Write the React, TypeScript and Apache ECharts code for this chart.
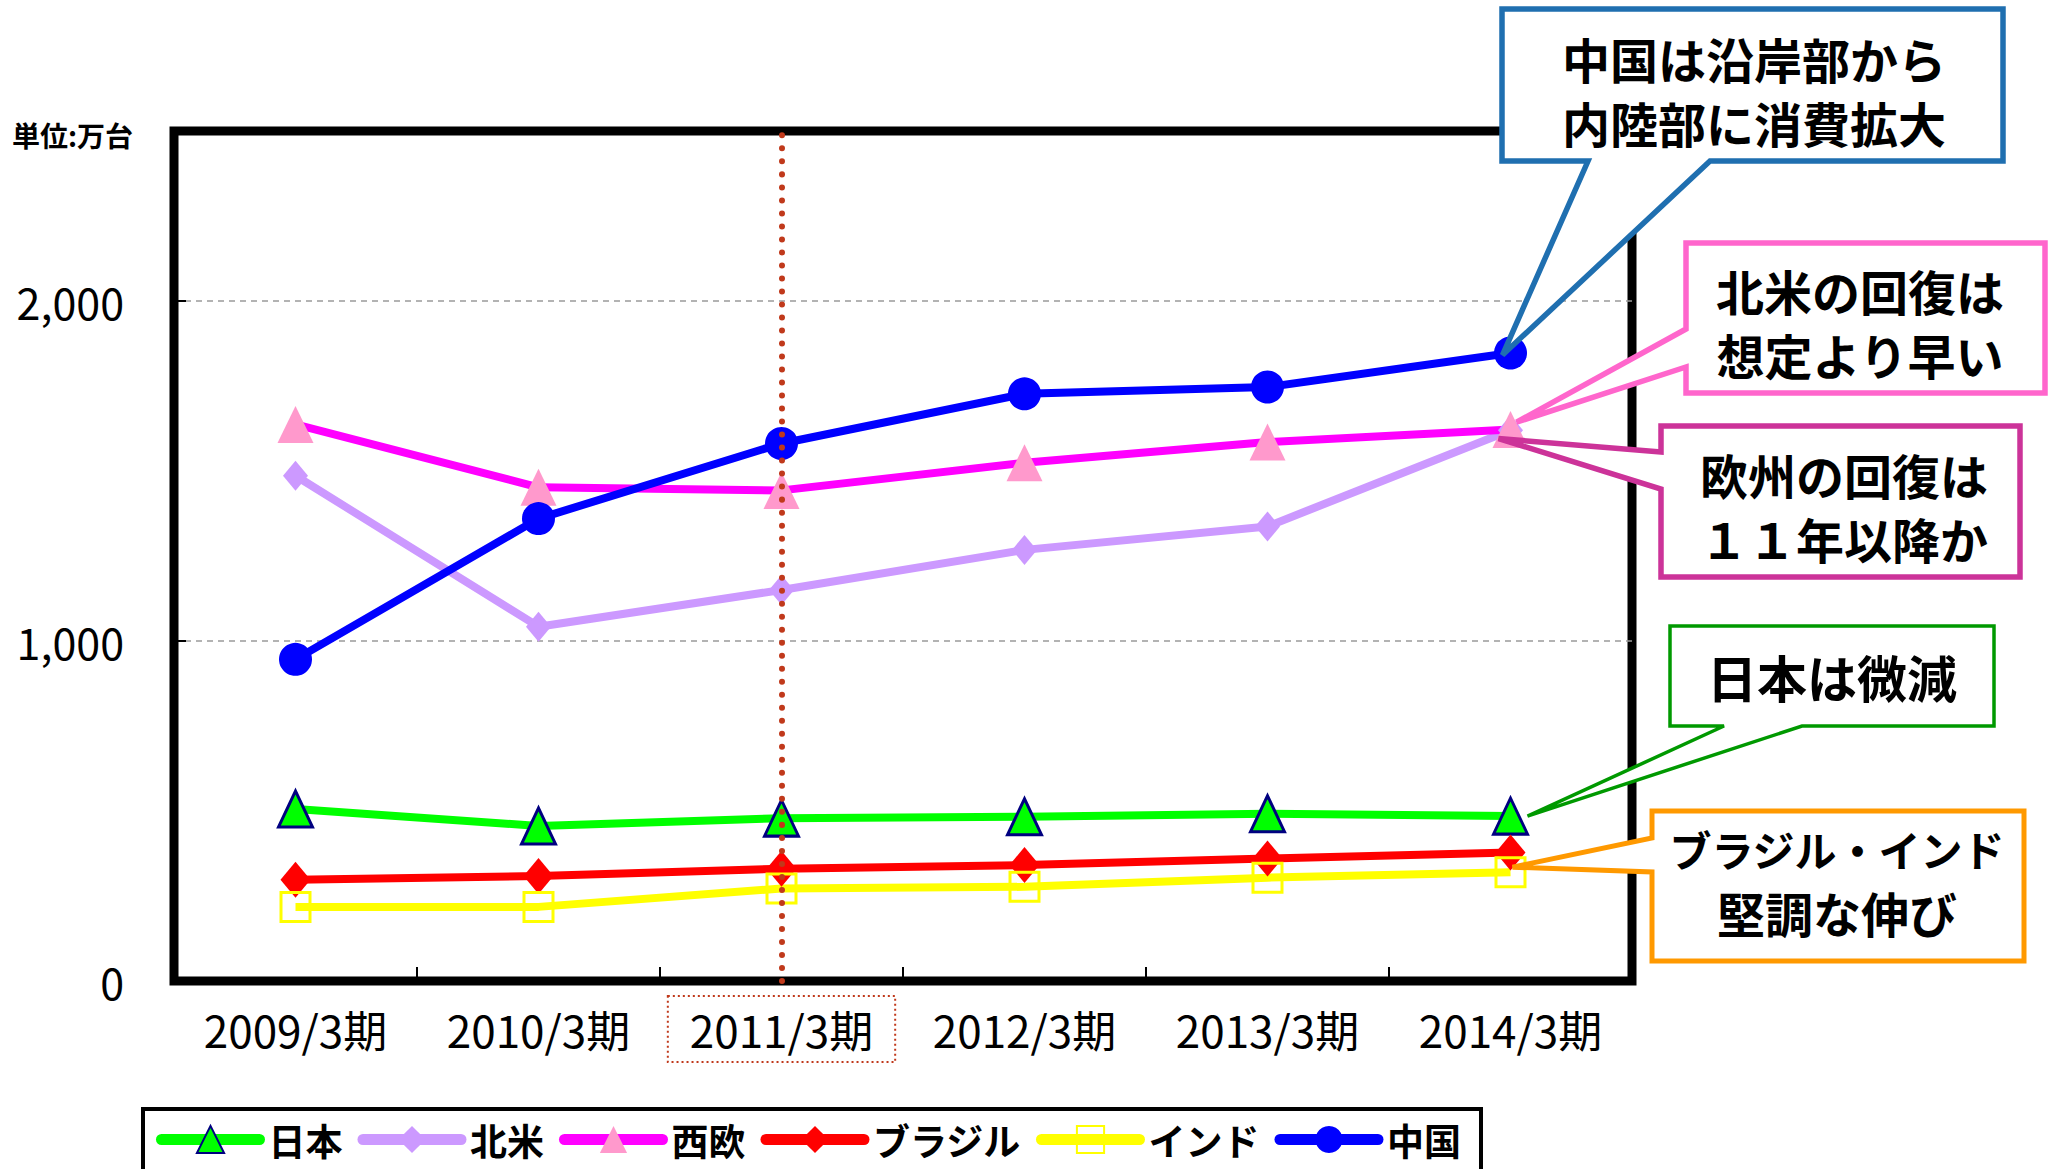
import React, { useEffect, useRef } from 'react';
import * as echarts from 'echarts';

// ---- data ----
const categories = ['2009/3期', '2010/3期', '2011/3期', '2012/3期', '2013/3期', '2014/3期'];
const japan = [506, 456, 479, 483, 492, 485];
const northAmerica = [1486, 1042, 1150, 1268, 1337, 1620];
const westEurope = [1637, 1452, 1443, 1524, 1585, 1622];
const brazil = [298, 309, 330, 341, 360, 378];
const india = [218, 218, 272, 277, 304, 320];
const china = [946, 1360, 1581, 1727, 1747, 1847];
const seriesNames = ['日本', '北米', '西欧', 'ブラジル', 'インド', '中国'];
const highlightCategory = '2011/3期';
const unitLabel = '単位:万台';
const yMax = 2500;
const yInterval = 1000;

const FONT = '"Noto Sans CJK JP", "Noto Sans", sans-serif';

export default function App() {
  const ref = useRef<HTMLDivElement>(null);

  useEffect(() => {
    if (!ref.current) return;
    const chart = echarts.init(ref.current, null, { renderer: 'svg' });

    const labelRich = {
      n: { fontSize: 44, fontFamily: FONT, color: '#000', padding: [11, 22], lineHeight: 44 },
      h: {
        fontSize: 44, fontFamily: FONT, color: '#000', padding: [11, 22], lineHeight: 44,
        borderColor: '#C0391B', borderWidth: 2, borderType: [2, 3],
      },
    };

    const option: any = {
      animation: false,
      backgroundColor: '#fff',
      grid: {
        left: 174, top: 131, right: 424, bottom: 188,
        show: true, borderColor: '#000', borderWidth: 9, backgroundColor: 'transparent',
        outerBoundsMode: 'none',
      },
      legend: {
        left: 143, top: 1109,
        orient: 'horizontal',
        padding: [12, 20, 14, 13],
        itemGap: 15,
        itemWidth: 98,
        itemHeight: 34,
        borderColor: '#000',
        borderWidth: 4,
        backgroundColor: '#fff',
        data: seriesNames,
        textStyle: { fontSize: 37, fontWeight: 'bold', color: '#000', fontFamily: FONT, padding: [0, 0, 0, 4] },
        lineStyle: { width: 11, cap: 'round' },
      },
      xAxis: {
        type: 'category',
        data: categories,
        boundaryGap: true,
        axisLine: { show: false },
        axisTick: { show: true, inside: true, length: 14, lineStyle: { color: '#000', width: 2 } },
        axisLabel: {
          margin: 26,
          formatter: (v: string) => (v === highlightCategory ? `{h|${v}}` : `{n|${v}}`),
          rich: labelRich,
        },
        splitLine: { show: false },
      },
      yAxis: {
        type: 'value',
        min: 0,
        max: yMax,
        interval: yInterval,
        axisLine: { show: false },
        axisTick: { show: true, inside: true, length: 12, lineStyle: { color: '#000', width: 2 } },
        axisLabel: {
          fontSize: 43, color: '#000', fontFamily: FONT, margin: 50, showMaxLabel: false,
          formatter: (v: number) => v.toLocaleString('en-US'),
        },
        splitLine: { show: true, showMinLine: false, showMaxLine: false, lineStyle: { color: '#9a9a9a', width: 1.5, type: [6, 5] } },
      },
      series: [
        {
          name: '日本', type: 'line', data: japan, symbol: 'triangle', symbolSize: [34, 36],
          lineStyle: { color: '#00FF00', width: 8 },
          itemStyle: { color: '#00FF00', borderColor: '#000080', borderWidth: 3 },
        },
        {
          name: '北米', type: 'line', data: northAmerica, symbol: 'diamond', symbolSize: [25, 30],
          lineStyle: { color: '#CC99FF', width: 8 },
          itemStyle: { color: '#CC99FF' },
        },
        {
          name: '西欧', type: 'line', data: westEurope, symbol: 'triangle', symbolSize: [36, 37],
          lineStyle: { color: '#FF00FF', width: 8 },
          itemStyle: { color: '#FF99CC' },
        },
        {
          name: 'ブラジル', type: 'line', data: brazil, symbol: 'diamond', symbolSize: [30, 36],
          lineStyle: { color: '#FF0000', width: 8 },
          itemStyle: { color: '#FF0000' },
        },
        {
          name: 'インド', type: 'line', data: india, symbol: 'rect', symbolSize: [29, 29],
          lineStyle: { color: '#FFFF00', width: 8 },
          itemStyle: { color: 'rgba(255,255,255,0)', borderColor: '#FFFF00', borderWidth: 3 },
        },
        {
          name: '中国', type: 'line', data: china, symbol: 'circle', symbolSize: 33,
          lineStyle: { color: '#0000FF', width: 8 },
          itemStyle: { color: '#0000FF' },
          markLine: {
            silent: true,
            symbol: ['none', 'none'],
            label: { show: false },
            lineStyle: { color: '#C0391B', width: 6, type: [0.01, 13], cap: 'round' },
            data: [{ xAxis: highlightCategory }],
          },
        },
      ],
    };

    chart.setOption(option);

    const px = (idx: number, val: number) => chart.convertToPixel({ gridIndex: 0 }, [idx, val]) as number[];
    const last = categories.length - 1;
    const tChina = px(last, china[last]);
    const tNA = px(last, northAmerica[last]);
    const tWE = px(last, westEurope[last]);
    const tJP = px(last, japan[last]);
    const tIN = px(last, india[last]);

    const poly = (points: number[][], stroke: string, lineWidth: number) => ({
      type: 'polygon', z: 100,
      shape: { points },
      style: { fill: '#fff', stroke, lineWidth, lineJoin: 'miter' },
    });
    const txt = (text: string, x: number, y: number, size = 48, lineHeight = 64) => ({
      type: 'text', z: 101, x, y,
      style: {
        text, fontSize: size, fontWeight: 'bold', fontFamily: FONT, fill: '#000',
        align: 'center', verticalAlign: 'middle', lineHeight,
      },
    });
    const orangeText = {
      type: 'text', z: 101, x: 1837, y: 880,
      style: {
        text: '{a|ブラジル・インド}\n{b|堅調な伸び}',
        fontFamily: FONT, fill: '#000', align: 'center', verticalAlign: 'middle',
        rich: {
          a: { fontSize: 42, fontWeight: 'bold', fontFamily: FONT, fill: '#000', lineHeight: 64 },
          b: { fontSize: 48, fontWeight: 'bold', fontFamily: FONT, fill: '#000', lineHeight: 64 },
        },
      },
    };

    const tipC = [tChina[0] - 8, tChina[1] + 2];
    const tipN = [tNA[0] + 6, tNA[1] - 8];
    const tipW = [tWE[0] - 12, tWE[1] + 9];
    const tipJ = [tJP[0] + 17, tJP[1]];
    const tipI = [tIN[0] + 2, tIN[1] - 5];

    const graphic: any[] = [
      {
        type: 'text', z: 101, x: 12, y: 135,
        style: { text: unitLabel, fontSize: 28, fontWeight: 'bold', fontFamily: FONT, fill: '#000', align: 'left', verticalAlign: 'middle' },
      },
      poly([[1502, 9], [2003, 9], [2003, 161], [1710, 161], tipC, [1588, 161], [1502, 161]], '#1F6FB0', 5.5),
      txt('中国は沿岸部から\n内陸部に消費拡大', 1754, 90),
      poly([[1686, 243], [2045, 243], [2045, 393], [1686, 393], [1686, 367], tipN, [1686, 329]], '#FF66CC', 5.5),
      txt('北米の回復は\n想定より早い', 1860, 322),
      poly([[1661, 426], [2020, 426], [2020, 577], [1661, 577], [1661, 489], tipW, [1661, 452]], '#CC3399', 5.5),
      txt('欧州の回復は\n１１年以降か', 1844, 506),
      poly([[1670, 626], [1994, 626], [1994, 726], [1802, 726], tipJ, [1724, 726], [1670, 726]], '#009900', 3.5),
      txt('日本は微減', 1832, 676, 50),
      poly([[1652, 811], [2024, 811], [2024, 961], [1652, 961], [1652, 872], tipI, [1652, 838]], '#FF9900', 5),
      orangeText,
    ];

    chart.setOption({ graphic });

    return () => chart.dispose();
  }, []);

  return (
    <div
      ref={ref}
      style={{ position: 'fixed', left: 0, top: 0, width: 2056, height: 1169, background: '#fff' }}
    />
  );
}
